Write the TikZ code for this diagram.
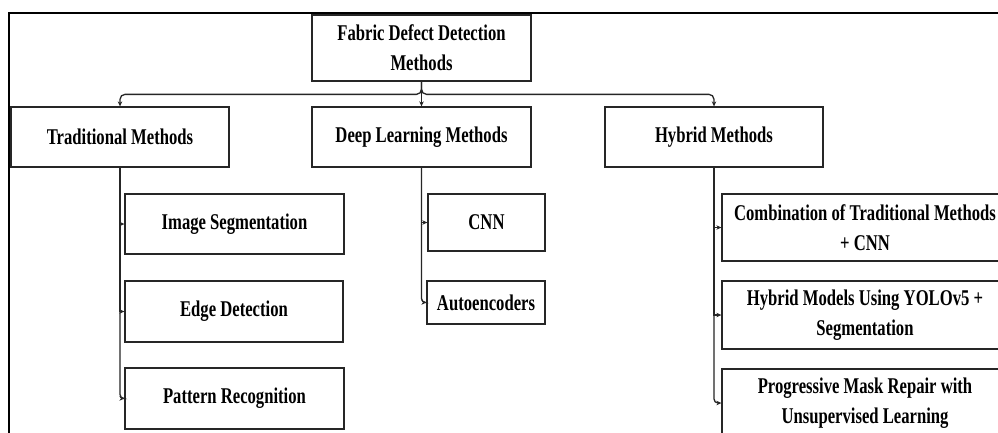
\documentclass[tikz,border=0pt]{standalone}
\usepackage{fontspec}
\setmainfont{Liberation Serif}[FakeStretch=0.74]
\usetikzlibrary{arrows.meta}
\tikzset{
  box/.style={draw=black!85, line width=1.3pt, rectangle, align=center, inner sep=0pt,
    font=\fontsize{22.5}{30}\selectfont\bfseries, text=black},
  conn/.style={draw=black!85, line width=1.3pt, -{Stealth[length=5pt,width=4.5pt]}},
  frame/.style={draw=black, line width=2pt}
}
\begin{document}
\begin{tikzpicture}[x=1pt,y=-1pt]
\useasboundingbox (0,0) rectangle (998,432);
\clip (0,0) rectangle (998,432);
\fill[white] (0,0) rectangle (998,432);
% outer frame
\draw[frame] (9,13) rectangle (1020,460);
% level 0 and 1
\node[box, minimum width=219pt, minimum height=66pt] (root) at (421.5,48) {Fabric Defect Detection\\Methods};
\node[box, minimum width=218pt, minimum height=60pt] (trad) at (120,137) {Traditional Methods};
\node[box, minimum width=219pt, minimum height=60pt] (deep) at (421.5,137) {Deep Learning Methods};
\node[box, minimum width=218pt, minimum height=60pt] (hyb) at (714,137) {Hybrid Methods};
% traditional children
\node[box, minimum width=219pt, minimum height=60pt] (img) at (234.5,224) {Image Segmentation};
\node[box, minimum width=218pt, minimum height=61pt] (edge) at (234,311.5) {Edge Detection};
\node[box, minimum width=219pt, minimum height=61pt] (pat) at (234.5,398.5) {Pattern Recognition};
% deep children
\node[box, minimum width=117pt, minimum height=57pt] (cnn) at (486.5,222.5) {CNN};
\node[box, minimum width=118pt, minimum height=43pt] (auto) at (486,302.5) {Autoencoders};
% hybrid children
\node[box, minimum width=286pt, minimum height=67pt] (comb) at (865,227.5) {Combination of Traditional Methods\\+ CNN};
\node[box, minimum width=286pt, minimum height=68pt] (hmod) at (865,315) {Hybrid Models Using YOLOv5 +\\Segmentation};
\node[box, minimum width=286pt, minimum height=68pt] (prog) at (865,403) {Progressive Mask Repair with\\Unsupervised Learning};
% top-level connectors
\draw[conn] (root.south) -- (deep.north);
\draw[conn, rounded corners=5pt] (root.south) |- ([yshift=12pt]trad.north) -- (trad.north);
\draw[conn, rounded corners=5pt] (root.south) |- ([yshift=12pt]hyb.north) -- (hyb.north);
% traditional children connectors
\draw[conn] (trad.south) |- (img.west);
\draw[conn] (trad.south) |- (edge.west);
\draw[conn, rounded corners=4pt] (trad.south) |- (pat.west);
% deep children connectors
\draw[conn] (deep.south) |- (cnn.west);
\draw[conn, rounded corners=4pt] (deep.south) |- (auto.west);
% hybrid children connectors
\draw[conn] (hyb.south) |- (comb.west);
\draw[conn] (hyb.south) |- (hmod.west);
\draw[conn, rounded corners=4pt] (hyb.south) |- (prog.west);
\end{tikzpicture}
\end{document}
